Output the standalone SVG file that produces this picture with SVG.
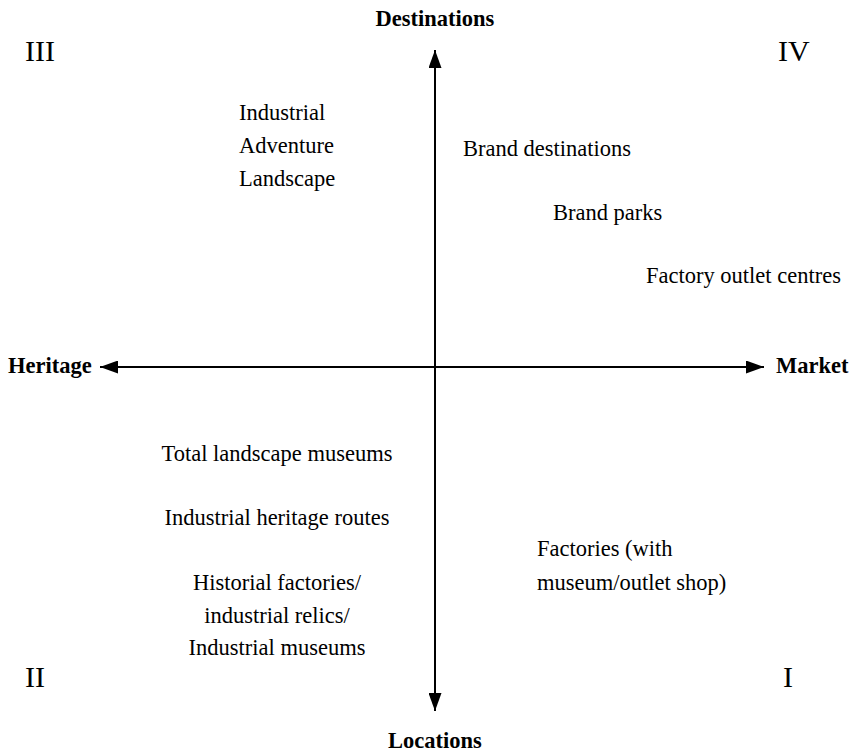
<svg xmlns="http://www.w3.org/2000/svg" width="853" height="755" viewBox="0 0 853 755">
<style>
text{font-family:"Liberation Serif","Times New Roman",serif;fill:#000}
.ax{font-size:22.5px;font-weight:bold}
.rn{font-size:30px}
.t{font-size:22.5px}
.c{text-anchor:middle}
.ln{stroke:#000;stroke-width:2;fill:none}
</style>
<defs>
<marker id="a2" viewBox="0 0 18 13" refX="18" refY="6.5" markerWidth="18" markerHeight="13" markerUnits="userSpaceOnUse" orient="auto">
<path d="M0,0 L18,6.5 L0,13 z" fill="#000"/>
</marker>
</defs>
<rect width="853" height="755" fill="#fff"/>
<g id="connectors">
<line class="ln" x1="435" y1="367" x2="435" y2="50" marker-end="url(#a2)"/>
<line class="ln" x1="435" y1="367" x2="435" y2="711" marker-end="url(#a2)"/>
<line class="ln" x1="435" y1="367" x2="100" y2="367" marker-end="url(#a2)"/>
<line class="ln" x1="435" y1="367" x2="764" y2="367" marker-end="url(#a2)"/>
</g>
<g id="axis-destinations"><text class="ax c" x="435" y="26">Destinations</text></g>
<g id="axis-locations"><text class="ax c" x="435" y="748">Locations</text></g>
<g id="axis-heritage"><text class="ax" x="8" y="373">Heritage</text></g>
<g id="axis-market"><text class="ax" x="776" y="373">Market</text></g>
<g id="q3"><text class="rn" x="25" y="61">III</text></g>
<g id="q4"><text class="rn" x="778" y="61">IV</text></g>
<g id="q2"><text class="rn" x="25" y="687">II</text></g>
<g id="q1"><text class="rn" x="783" y="687">I</text></g>
<g id="n-industrial-adventure">
<text class="t" x="239" y="120">Industrial</text>
<text class="t" x="239" y="153">Adventure</text>
<text class="t" x="239" y="186">Landscape</text>
</g>
<g id="n-brand-destinations"><text class="t" x="463" y="156">Brand destinations</text></g>
<g id="n-brand-parks"><text class="t" x="553" y="220">Brand parks</text></g>
<g id="n-factory-outlet"><text class="t" x="646" y="283">Factory outlet centres</text></g>
<g id="n-total-landscape"><text class="t c" x="277" y="461">Total landscape museums</text></g>
<g id="n-heritage-routes"><text class="t c" x="277" y="525">Industrial heritage routes</text></g>
<g id="n-historial">
<text class="t c" x="277" y="590">Historial factories/</text>
<text class="t c" x="277" y="623">industrial relics/</text>
<text class="t c" x="277" y="655">Industrial museums</text>
</g>
<g id="n-factories">
<text class="t" x="537" y="556">Factories (with</text>
<text class="t" x="537" y="590">museum/outlet shop)</text>
</g>
</svg>
